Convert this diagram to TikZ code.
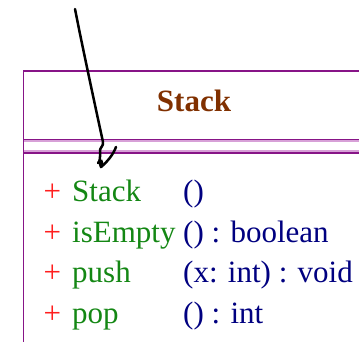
\documentclass[tikz,border=0pt]{standalone}
\usepackage{fontspec}
\setmainfont{Liberation Serif}
\definecolor{umlpurple}{RGB}{135,20,135}
\definecolor{umllight}{RGB}{215,160,215}
\definecolor{titlebrown}{RGB}{128,48,0}
\definecolor{plusred}{RGB}{255,30,30}
\definecolor{namegreen}{RGB}{20,135,20}
\definecolor{typenavy}{RGB}{0,0,128}
\begin{document}
\begin{tikzpicture}[x=1pt,y=-1pt,
  txt/.style={anchor=base west,inner sep=0pt,font=\fontsize{31}{31}\selectfont},
  plus/.style={txt,text=plusred},
  nm/.style={txt,text=namegreen},
  tp/.style={txt,text=typenavy},
  frame/.style={draw=umlpurple,line width=1.8pt}]
\useasboundingbox (0,0) rectangle (359,342);
% class box (extends past the right edge)
\draw[umllight,line width=1.6pt] (23.5,141.3) -- (370,141.3);
\draw[umllight,line width=1.6pt] (23.5,151.3) -- (370,151.3);
\draw[frame] (370,71) -- (23.5,71) -- (23.5,350);
\draw[frame] (23.5,139.5) -- (370,139.5);
\draw[frame] (23.5,153.3) -- (370,153.3);
\node[txt,anchor=base,text=titlebrown,font=\fontsize{31}{31}\selectfont\bfseries] (title) at (194,112) {Stack};
% operations
\node[plus] (p1) at (43.5,202) {+};
\node[nm] (n1) at (72,202) {Stack};
\node[tp] (t1) at (183,202) {()};
\node[plus] (p2) at (43.5,242) {+};
\node[nm] (n2) at (72,242) {isEmpty};
\node[tp] (t2) at (183,242) {() : boolean};
\node[plus] (p3) at (43.5,282.5) {+};
\node[nm] (n3) at (72,282.5) {push};
\node[tp] (t3) at (183,282.5) {(x: int) : void};
\node[plus] (p4) at (43.5,323) {+};
\node[nm] (n4) at (72,323) {pop};
\node[tp] (t4) at (183,323) {() : int};
% hand-drawn arrow
\coordinate (s) at (75,9);
\coordinate (k) at (103,142);
\coordinate (tip) at (101,167);
\coordinate (r) at (116,147);
\draw[black,line width=2.5pt,line cap=round,line join=round]
  (s) .. controls (81,40) and (96,110) .. (k)
  .. controls (104,146) and (99,148) .. (100,152)
  .. controls (101,156) and (98,162) .. (tip)
  .. controls (107,162) and (113,155) .. (r);
\draw[black,line width=2.5pt,line cap=round] (98,163) .. controls (100,158) and (104,161) .. (tip);
\end{tikzpicture}
\end{document}
